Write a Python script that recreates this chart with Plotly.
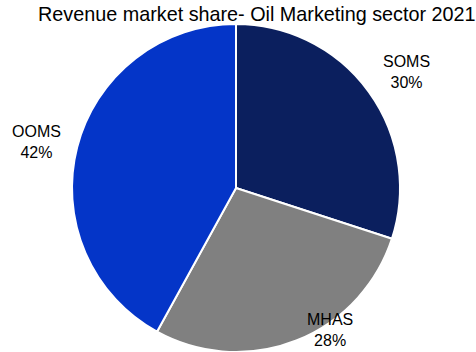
import math
import plotly.graph_objects as go

# Revenue market share by company, Oil Marketing sector 2021
companies = ["SOMS", "MHAS", "OOMS"]
shares = [30, 28, 42]
slice_colors = ["#0b1f5e", "#808080", "#0435c8"]
# label placement: distance from centre (multiples of radius) and angular nudge (degrees)
label_distance = [1.255, 1.04, 1.246]
label_nudge = [1.7, -12.0, -1.5]

W, H = 476, 352
cx, cy, r = 236, 188, 164  # pie centre and radius in px

fig = go.Figure(go.Pie(
    labels=companies,
    values=shares,
    sort=False,
    direction="clockwise",
    rotation=0,
    textinfo="none",
    hoverinfo="label+percent",
    marker=dict(colors=slice_colors, line=dict(color="white", width=2)),
    domain=dict(x=[(cx - r) / W, (cx + r) / W], y=[(H - cy - r) / H, (H - cy + r) / H]),
    showlegend=False,
))

# category + percent labels placed around the pie near each slice's mid-angle
total = sum(shares)
start = 0.0
for name, val, dist, nudge in zip(companies, shares, label_distance, label_nudge):
    mid = (start + val / 2) / total * 2 * math.pi + math.radians(nudge)
    start += val
    px = cx + dist * r * math.sin(mid)
    py = cy - dist * r * math.cos(mid)
    fig.add_annotation(
        x=px / W, y=1 - py / H, xref="paper", yref="paper",
        text=f"{name}<br>{round(val / total * 100)}%",
        showarrow=False, xanchor="center", yanchor="middle",
        font=dict(family="Liberation Sans, Arial, sans-serif", size=16, color="black"),
    )

fig.add_annotation(
    x=36 / W, y=1 - 14 / H, xref="paper", yref="paper",
    text="Revenue market share- Oil Marketing sector 2021",
    showarrow=False, xanchor="left", yanchor="middle",
    font=dict(family="Liberation Sans, Arial, sans-serif", size=19.8, color="black"),
)

fig.update_layout(
    width=W, height=H,
    margin=dict(l=0, r=0, t=0, b=0),
    paper_bgcolor="white", plot_bgcolor="white",
)

fig.write_html("out.html")
